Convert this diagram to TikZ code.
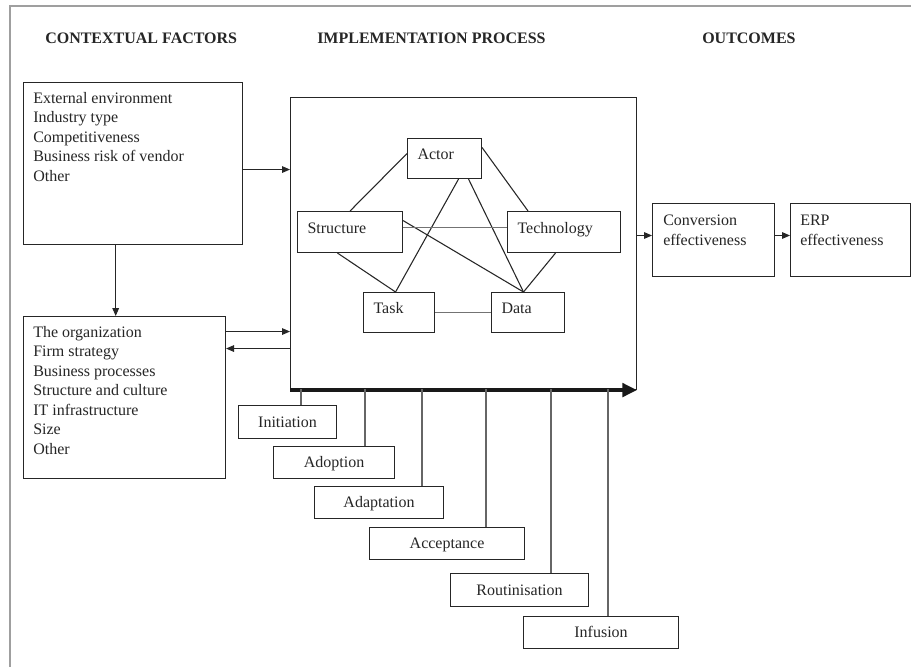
\documentclass[tikz,border=0pt]{standalone}
\usepackage{fontspec}
\setmainfont{Liberation Serif}
\usetikzlibrary{arrows.meta}
\newcommand\gb[6]{\node[gbox, minimum width={(#4-#2)*0.75pt}, minimum height={(#5-#3)*0.75pt}, text width={(#4-#2)*0.75pt-15pt}, anchor=north west] (#1) at (#2,#3) {#6};}
\newcommand\eb[5]{\node[ebox, minimum width={(#4-#2)*0.75pt}, minimum height={(#5-#3)*0.75pt}, anchor=north west] (#1) at (#2,#3) {};}
\newcommand\pb[6]{\node[pbox, minimum width={(#4-#2)*0.75pt}, minimum height={(#5-#3)*0.75pt}, anchor=north west] (#1) at (#2,#3) {#6};}
\begin{document}
\begin{tikzpicture}[x=0.75pt,y=-0.75pt,
  font=\fontsize{12}{14.6}\selectfont,
  every node/.style={text=black!85},
  gbox/.style={draw=black!85, line width=0.8pt, inner xsep=7.5pt, inner ysep=0pt, align=left, text height=7.9pt, text depth=6pt},
  ebox/.style={draw=black!85, line width=0.8pt, inner sep=0pt},
  btext/.style={anchor=north west, inner sep=0pt, align=left},
  pbox/.style={draw=black!85, line width=0.8pt, inner sep=0pt, align=center, text height=7.9pt, text depth=0pt},
  head/.style={font=\bfseries\fontsize{12}{14}\selectfont, anchor=base west, inner sep=0pt},
  arr/.style={draw=black!85, line width=0.7pt, -{Triangle[length=6pt,width=5pt]}},
  link/.style={draw=black!85, line width=0.8pt},
  thin/.style={draw=black!55, line width=0.6pt},
  tick/.style={draw=black!60, line width=0.9pt}]
\useasboundingbox (0,0) rectangle (911,667);
\fill[white] (0,0) rectangle (911,667);
% outer frame
\draw[gray!75, line width=1.3pt] (10,667) -- (10,6) -- (911,6);

% headers
\node[head] (h1) at (45,44) {CONTEXTUAL FACTORS};
\node[head] (h2) at (317,44) {IMPLEMENTATION PROCESS};
\node[head] (h3) at (702,44) {OUTCOMES};

% contextual boxes
\eb{ext}{23}{82}{242}{244}
\node[btext] (extt) at (33,92) {External environment\\Industry type\\Competitiveness\\Business risk of vendor\\Other};
\eb{org}{23}{316}{225}{478}
\node[btext] (orgt) at (33,326) {The organization\\Firm strategy\\Business processes\\Structure and culture\\IT infrastructure\\Size\\Other};

% implementation box
\node[ebox, minimum width={346*0.75pt}, minimum height={292*0.75pt}, anchor=north west] (impl) at (290,97) {};

% inner graph boxes
\gb{actor}{407}{138}{481}{178}{Actor}
\gb{struct}{297}{211}{402}{252}{Structure}
\gb{tech}{507}{211}{620}{252}{Technology}
\gb{task}{363}{292}{434}{332}{Task}
\gb{data}{491}{292}{564}{332}{Data}

% outcome boxes
\eb{conv}{652}{203}{774}{276}
\node[btext] (convt) at (663,215) {Conversion\\effectiveness};
\eb{erp}{790}{203}{910}{276}
\node[btext] (erpt) at (800,215) {ERP\\effectiveness};

% phase boxes
\pb{init}{238}{405}{336}{438}{Initiation}
\pb{adop}{273}{446}{394}{478}{Adoption}
\pb{adap}{314}{486}{443}{518}{Adaptation}
\pb{acce}{369}{527}{524}{559}{Acceptance}
\pb{rout}{450}{573}{588}{606}{Routinisation}
\pb{infu}{523}{616}{678}{648}{Infusion}

% arrows between contextual boxes and process
\draw[arr] ([yshift=-4.5pt]ext.east) -- ([yshift=-4.5pt]ext.east -| impl.west);
\draw[arr] ([xshift=-13pt]ext.south) -- ([xshift=-13pt]ext.south |- org.north);
\draw[arr] ([yshift=49.5pt]org.east) -- ([yshift=49.5pt]org.east -| impl.west);
\draw[arr] ([yshift=36.75pt]org.east -| impl.west) -- ([yshift=36.75pt]org.east);
\draw[arr] ([yshift=3.4pt]conv.west -| impl.east) -- ([yshift=3.4pt]conv.west);
\draw[arr] ([yshift=3.4pt]conv.east) -- ([yshift=3.4pt]erp.west);

% graph links
\coordinate (dtop) at ([xshift=-3.4pt]data.north);
\coordinate (ttop) at ([xshift=-2.6pt]task.north);
\draw[link] ([yshift=3.75pt]actor.west) -- (struct.north);
\draw[link] ([yshift=8.25pt]actor.east) -- ([xshift=-27pt]tech.north);
\draw[link] ([xshift=10.5pt]actor.south) -- (ttop);
\draw[link] ([xshift=18pt]actor.south) -- (dtop);
\draw[link] ([yshift=8.6pt]struct.east) -- (dtop);
\draw[thin] ([yshift=3.4pt]struct.east) -- ([yshift=3.4pt]tech.west);
\draw[link] ([xshift=-9.4pt]struct.south) -- (ttop);
\draw[link] ([xshift=-6.4pt]tech.south) -- (dtop);
\draw[thin] (task.east) -- (task.east -| data.west);

% time axis
\draw[line width=3pt, black!90, -{Triangle[length=11pt,width=10pt]}] (impl.south west) -- (impl.south east);
\coordinate (t1) at (301,389);
\coordinate (t2) at (365,389);
\coordinate (t3) at (422,389);
\coordinate (t4) at (486,389);
\coordinate (t5) at (551,389);
\coordinate (t6) at (608,389);
\draw[tick] (t1) -- (t1 |- init.north);
\draw[tick] (t2) -- (t2 |- adop.north);
\draw[tick] (t3) -- (t3 |- adap.north);
\draw[tick] (t4) -- (t4 |- acce.north);
\draw[tick] (t5) -- (t5 |- rout.north);
\draw[tick] (t6) -- (t6 |- infu.north);
\end{tikzpicture}
\end{document}
